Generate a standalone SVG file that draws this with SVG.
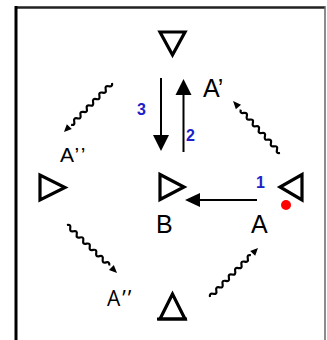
<svg xmlns="http://www.w3.org/2000/svg" width="327" height="340" viewBox="0 0 327 340">
<style>
.tri{fill:none;stroke:#000;stroke-width:3.2;stroke-linejoin:miter}
.lbl{font-family:"Liberation Sans",Arial,sans-serif;font-size:25px;fill:#000}
.lbl2{font-family:"Liberation Sans",Arial,sans-serif;font-size:21px;fill:#000;letter-spacing:2px}
.lbl3{font-family:"Open Sans","DejaVu Sans",sans-serif;font-size:21px;fill:#000;letter-spacing:2px}
.num{font-family:"Liberation Sans",Arial,sans-serif;font-size:16px;font-weight:bold;fill:#2020c8}
.ln{stroke:#000;stroke-width:2;fill:none}
.wave{stroke:#000;stroke-width:2.2;fill:none}
</style>
<rect x="0" y="0" width="327" height="340" fill="#fff"/>
<g id="frame">
<line x1="16" y1="7.5" x2="325" y2="7.5" stroke="#222" stroke-width="2.5"/>
<line x1="16" y1="6" x2="16" y2="340" stroke="#000" stroke-width="3"/>
<line x1="325" y1="6" x2="325" y2="340" stroke="#666" stroke-width="1.5"/>
</g>
<g id="node-top"><polygon class="tri" points="160,32 185,32 172.5,55"/></g>
<g id="node-left"><polygon class="tri" points="40,175 40,200 65,187.5"/></g>
<g id="node-B"><polygon class="tri" points="160,174.5 160,199.5 184,187"/><text class="lbl" x="156" y="233">B</text></g>
<g id="node-A"><polygon class="tri" points="302,174.5 302,200 280,187"/><circle cx="286" cy="205" r="5" fill="#f00"/><text class="lbl" x="251" y="233">A</text></g>
<g id="node-bottom"><polygon class="tri" points="172.5,294 160,319 185,319"/><line x1="157" y1="319" x2="187" y2="319" stroke="#000" stroke-width="3"/></g>
<g id="labels">
<text class="lbl" x="203" y="97">A’</text>
<text class="lbl2" x="60" y="162">A’’</text>
<text class="lbl3" x="107" y="306">A’’</text>
<text class="num" x="137" y="115">3</text>
<text class="num" x="186" y="141">2</text>
<text class="num" x="256" y="188">1</text>
</g>
<g id="connectors">
<line class="ln" x1="161" y1="78" x2="161" y2="136"/>
<polygon points="153,135 169,135 161,151" fill="#000"/>
<line class="ln" x1="183.5" y1="152" x2="183.5" y2="94"/>
<polygon points="175.5,95 191.5,95 183.5,79" fill="#000"/>
<line class="ln" x1="257" y1="200" x2="199" y2="200"/>
<polygon points="200,193 200,207 185,200" fill="#000"/>
<g transform="translate(112,83) rotate(134.4)"><path class="wave" d="M0,0 q2.25,-3.5 4.5,0 t4.5,0 t4.5,0 t4.5,0 t4.5,0 t4.5,0 t4.5,0 t4.5,0 t4.5,0 t4.5,0 t4.5,0 t4.5,0 t4.5,0"/><polygon points="61,-3.5 68.6,0 61,3.5"/></g>
<g transform="translate(280,153) rotate(-132.1)"><path class="wave" d="M0,0 q2.25,-3.5 4.5,0 t4.5,0 t4.5,0 t4.5,0 t4.5,0 t4.5,0 t4.5,0 t4.5,0 t4.5,0 t4.5,0 t4.5,0 t4.5,0 t4.5,0"/><polygon points="62,-3.5 70,0 62,3.5"/></g>
<g transform="translate(67,225) rotate(43.8)"><path class="wave" d="M0,0 q2.25,-3.5 4.5,0 t4.5,0 t4.5,0 t4.5,0 t4.5,0 t4.5,0 t4.5,0 t4.5,0 t4.5,0 t4.5,0 t4.5,0 t4.5,0 t4.5,0"/><polygon points="61.5,-3.5 69.3,0 61.5,3.5"/></g>
<g transform="translate(210,297) rotate(-45.6)"><path class="wave" d="M0,0 q2.25,-3.5 4.5,0 t4.5,0 t4.5,0 t4.5,0 t4.5,0 t4.5,0 t4.5,0 t4.5,0 t4.5,0 t4.5,0 t4.5,0 t4.5,0 t4.5,0"/><polygon points="61,-3.5 68.6,0 61,3.5"/></g>
</g>
</svg>
